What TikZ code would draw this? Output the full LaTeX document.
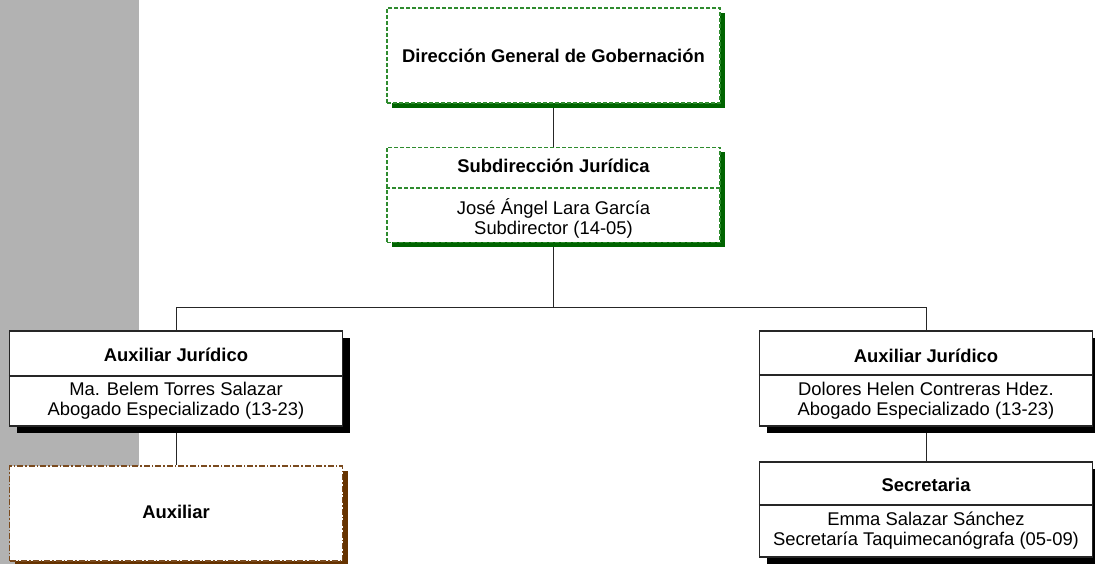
\documentclass[tikz,border=0pt]{standalone}
\usepackage{fontspec}
\setmainfont{Liberation Sans}
\usetikzlibrary{shadows,backgrounds}

\definecolor{Gray}{HTML}{B2B2B2}
\definecolor{DashGreen}{HTML}{2E8B2E}
\definecolor{ShadeGreen}{HTML}{006400}
\definecolor{DashBrown}{HTML}{7A4A1E}
\definecolor{ShadeBrown}{HTML}{663300}
\newcommand{\orgfont}{\fontsize{18.4}{20}\selectfont}

\tikzstyle{Box} = [rectangle, 
                   fill=white, 
                   line width=1.1pt, 
                   inner sep=0pt, 
                   minimum width=333pt, 
                   minimum height=95pt]
\tikzstyle{GreenBox} = [Box, draw=DashGreen, line width=1.3pt, dash pattern=on 4pt off 2pt,
                        drop shadow={shadow xshift=5pt, shadow yshift=-5pt, fill=ShadeGreen, opacity=1}]
\tikzstyle{BlackBox} = [Box, draw=black!85,
                        drop shadow={shadow xshift=7pt, shadow yshift=-7pt, fill=black, opacity=1}]
\tikzstyle{BrownBox} = [Box, draw=DashBrown, line width=1.3pt, dash pattern=on 6pt off 2pt on 1.5pt off 2pt,
                        drop shadow={shadow xshift=5pt, shadow yshift=-5pt, fill=ShadeBrown, opacity=1}]
\tikzstyle{Title} = [anchor=base, inner sep=0pt, font=\orgfont\bfseries]
\tikzstyle{Name} = [align=center, inner sep=0pt, font=\orgfont]
\tikzstyle{Link} = [line width=0.9pt, draw=black!85]

\begin{document}
\begin{tikzpicture}[x=1pt, y=-1pt]

	\useasboundingbox (0,0) rectangle (1095,564);
	\fill[Gray] (0,0) rectangle (139,564);

	% Boxes
	\node (dgg) at (553.5, 55.5) [GreenBox]{};
	\node (sub) at (553.5, 195) [GreenBox]{};
	\node (aux1) at (176, 378.5) [BlackBox]{};
	\node (aux2) at (926, 378.5) [BlackBox]{};
	\node (auxiliar) at (176, 513.5) [BrownBox]{};
	\node (sec) at (926, 509.5) [BlackBox]{};

	% Dividers
	\draw [DashGreen, line width=1.3pt, dash pattern=on 4pt off 2pt] (sub.west |- 0,188) -- (sub.east |- 0,188);
	\draw [black!85, line width=1.1pt] (aux1.west |- 0,376) -- (aux1.east |- 0,376);
	\draw [black!85, line width=1.1pt] (aux2.west |- 0,375) -- (aux2.east |- 0,375);
	\draw [black!85, line width=1.1pt] (sec.west |- 0,505) -- (sec.east |- 0,505);

	% Texts
	\node (dggT) at (553.5, 62.7) [Title]{Dirección General de Gobernación};
	\node (subT) at (553.5, 172.7) [Title]{Subdirección Jurídica};
	\node (subN) at (553.5, 218.5) [Name]{José Ángel Lara García \\ Subdirector (14-05)};
	\node (aux1T) at (176, 361.3) [Title]{Auxiliar Jurídico};
	\node (aux1N) at (176, 401) [Name]{Ma. Belem Torres Salazar \\ Abogado Especializado (13-23)};
	\node (aux2T) at (926, 362) [Title]{Auxiliar Jurídico};
	\node (aux2N) at (926, 400.5) [Name]{Dolores Helen Contreras Hdez. \\ Abogado Especializado (13-23)};
	\node (auxiliarT) at (176, 518.3) [Title]{Auxiliar};
	\node (secT) at (926, 491.7) [Title]{Secretaria};
	\node (secN) at (926, 530.5) [Name]{Emma Salazar Sánchez \\ Secretaría Taquimecanógrafa (05-09)};

	% Lines
	\begin{pgfonlayer}{background}
	\coordinate (bus) at (553.5, 307);
	\draw [Link] (dgg) -- (sub);
	\draw [Link] (sub) -- (bus);
	\draw [Link] (bus) -| (aux1.north);
	\draw [Link] (bus) -| (aux2.north);
	\draw [Link] (aux1) -- (auxiliar);
	\draw [Link] (aux2) -- (sec);
	\end{pgfonlayer}

\end{tikzpicture}
\end{document}
